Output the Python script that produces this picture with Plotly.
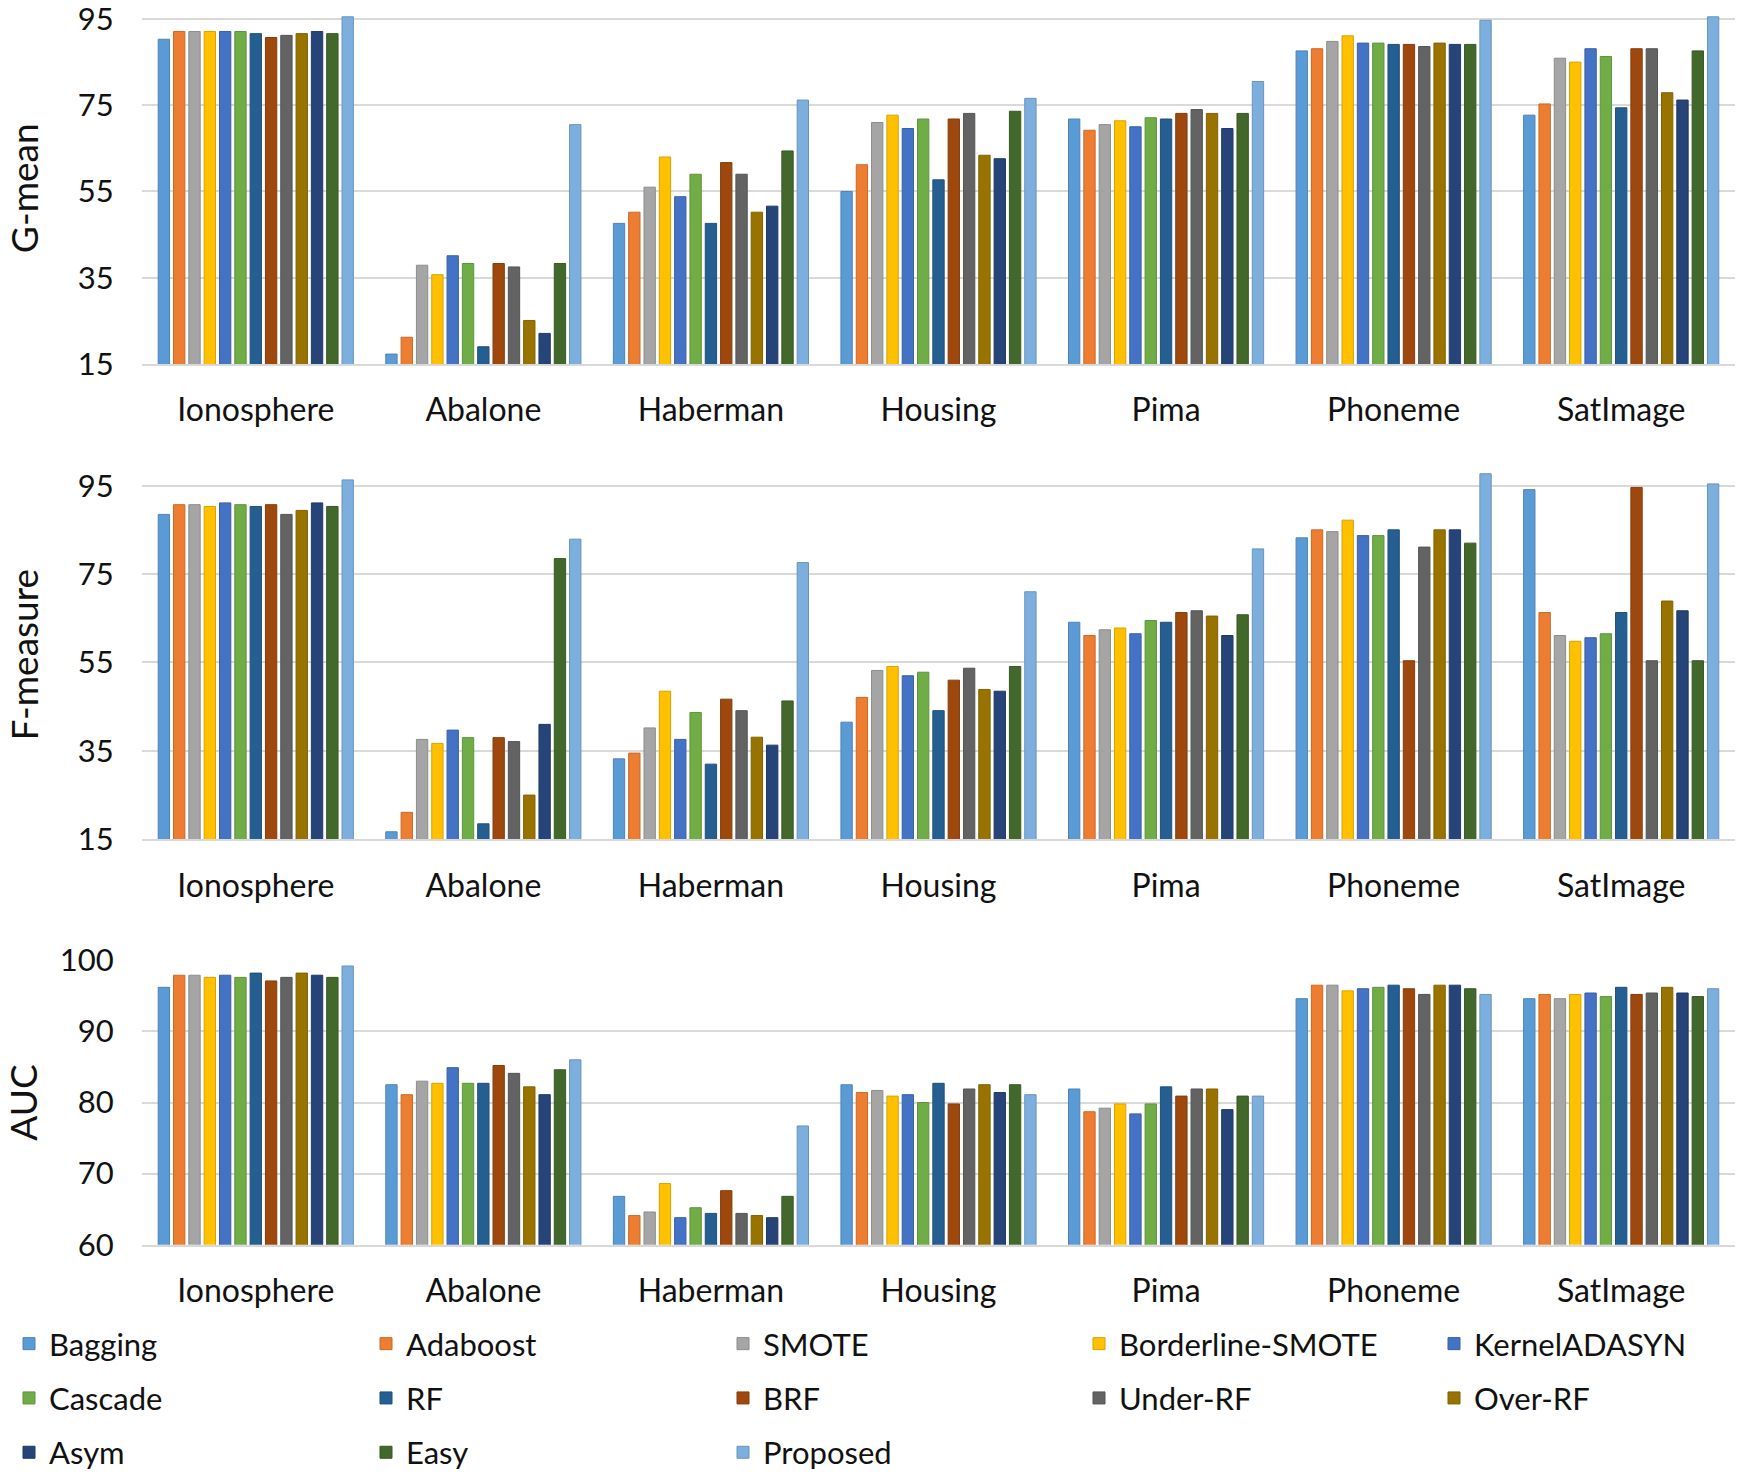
import plotly.graph_objects as go

datasets = ["Ionosphere", "Abalone", "Haberman", "Housing", "Pima", "Phoneme", "SatImage"]
methods = ["Bagging", "Adaboost", "SMOTE", "Borderline-SMOTE", "KernelADASYN",
           "Cascade", "RF", "BRF", "Under-RF", "Over-RF", "Asym", "Easy", "Proposed"]

# G-mean values: one list per method, in dataset order
gmean_bagging = [90.3, 17.3, 47.6, 55.0, 71.8, 87.6, 72.7]
gmean_adaboost = [92.1, 21.2, 50.2, 61.2, 69.2, 88.1, 75.3]
gmean_smote = [92.1, 37.9, 56.0, 71.0, 70.5, 89.8, 85.9]
gmean_borderline = [92.1, 35.7, 63.0, 72.7, 71.4, 91.1, 85.0]
gmean_kerneladasyn = [92.1, 40.1, 53.8, 69.6, 70.0, 89.4, 88.1]
gmean_cascade = [92.1, 38.3, 59.0, 71.8, 72.1, 89.4, 86.3]
gmean_rf = [91.6, 19.0, 47.6, 57.7, 71.8, 89.1, 74.4]
gmean_brf = [90.7, 38.3, 61.7, 71.8, 73.1, 89.1, 88.1]
gmean_under_rf = [91.2, 37.5, 59.0, 73.1, 74.0, 88.6, 88.1]
gmean_over_rf = [91.6, 25.1, 50.2, 63.4, 73.1, 89.4, 77.9]
gmean_asym = [92.1, 22.1, 51.6, 62.6, 69.6, 89.1, 76.2]
gmean_easy = [91.6, 38.3, 64.4, 73.6, 73.1, 89.1, 87.6]
gmean_proposed = [95.5, 70.5, 76.2, 76.6, 80.5, 94.7, 95.5]

# F-measure values
fm_bagging = [88.5, 16.7, 33.2, 41.5, 64.1, 83.2, 94.1]
fm_adaboost = [90.7, 21.1, 34.5, 47.1, 61.1, 85.0, 66.3]
fm_smote = [90.7, 37.6, 40.2, 53.2, 62.4, 84.6, 61.1]
fm_borderline = [90.3, 36.7, 48.5, 54.1, 62.8, 87.2, 59.8]
fm_kerneladasyn = [91.1, 39.7, 37.6, 52.0, 61.5, 83.7, 60.6]
fm_cascade = [90.7, 38.0, 43.7, 52.8, 64.5, 83.7, 61.5]
fm_rf = [90.3, 18.5, 32.0, 44.1, 64.1, 85.0, 66.3]
fm_brf = [90.7, 38.0, 46.7, 51.0, 66.3, 55.4, 94.6]
fm_under_rf = [88.5, 37.1, 44.1, 53.7, 66.7, 81.1, 55.4]
fm_over_rf = [89.4, 25.0, 38.1, 48.9, 65.5, 85.0, 68.9]
fm_asym = [91.1, 41.0, 36.3, 48.5, 61.1, 85.0, 66.7]
fm_easy = [90.3, 78.5, 46.3, 54.1, 65.8, 82.0, 55.4]
fm_proposed = [96.3, 82.9, 77.6, 71.0, 80.7, 97.7, 95.4]

# AUC values
auc_bagging = [96.2, 82.5, 66.8, 82.5, 81.9, 94.6, 94.6]
auc_adaboost = [97.9, 81.1, 64.1, 81.4, 78.7, 96.5, 95.2]
auc_smote = [97.9, 83.0, 64.6, 81.7, 79.2, 96.5, 94.6]
auc_borderline = [97.6, 82.7, 68.6, 80.9, 79.8, 95.7, 95.2]
auc_kerneladasyn = [97.9, 84.9, 63.8, 81.1, 78.4, 96.0, 95.4]
auc_cascade = [97.6, 82.7, 65.2, 80.0, 79.8, 96.2, 94.9]
auc_rf = [98.2, 82.7, 64.4, 82.7, 82.2, 96.5, 96.2]
auc_brf = [97.1, 85.2, 67.6, 79.8, 80.9, 96.0, 95.2]
auc_under_rf = [97.6, 84.1, 64.4, 81.9, 81.9, 95.2, 95.4]
auc_over_rf = [98.2, 82.2, 64.1, 82.5, 81.9, 96.5, 96.2]
auc_asym = [97.9, 81.1, 63.8, 81.4, 79.0, 96.5, 95.4]
auc_easy = [97.6, 84.6, 66.8, 82.5, 80.9, 96.0, 94.9]
auc_proposed = [99.2, 86.0, 76.7, 81.1, 80.9, 95.2, 96.0]

gmean = [gmean_bagging, gmean_adaboost, gmean_smote, gmean_borderline, gmean_kerneladasyn,
         gmean_cascade, gmean_rf, gmean_brf, gmean_under_rf, gmean_over_rf, gmean_asym,
         gmean_easy, gmean_proposed]
fmeasure = [fm_bagging, fm_adaboost, fm_smote, fm_borderline, fm_kerneladasyn,
            fm_cascade, fm_rf, fm_brf, fm_under_rf, fm_over_rf, fm_asym,
            fm_easy, fm_proposed]
auc = [auc_bagging, auc_adaboost, auc_smote, auc_borderline, auc_kerneladasyn,
       auc_cascade, auc_rf, auc_brf, auc_under_rf, auc_over_rf, auc_asym,
       auc_easy, auc_proposed]

metric_titles = ["G-mean", "F-measure", "AUC"]
gmean_ticks = [15, 35, 55, 75, 95]
fmeasure_ticks = [15, 35, 55, 75, 95]
auc_ticks = [60, 70, 80, 90, 100]

colors = ["#5B9BD5", "#ED7D31", "#A5A5A5", "#FFC000", "#4472C4",
          "#70AD47", "#255E91", "#9E480E", "#636363", "#997300",
          "#264478", "#43682B", "#7CAFDD"]


def darker(hex_color, f=0.85):
    h = hex_color.lstrip("#")
    r, g, b = (int(h[i:i + 2], 16) for i in (0, 2, 4))
    return "rgb(%d,%d,%d)" % (int(r * f), int(g * f), int(b * f))


W, H = 1740, 1475
FONT = "Lato"
TXT = "#111111"
GRID = "#D9D9D9"

# legend laid out in 5 columns, filled row by row (as in the reference)
n_cols = 5
legend_names = ["legend", "legend2", "legend3", "legend4", "legend5"]

fig = go.Figure()
series = [gmean, fmeasure, auc]
for m, data in enumerate(series):
    ax = "" if m == 0 else str(m + 1)
    for i, name in enumerate(methods):
        fig.add_trace(go.Bar(
            x=datasets, y=data[i], name=name,
            marker=dict(color=colors[i], line=dict(color=darker(colors[i]), width=1)),
            xaxis="x" + ax, yaxis="y" + ax,
            showlegend=(m == 0),
            legend=legend_names[i % n_cols],
            legendgroup=name,
        ))


def ydom(top_px, bottom_px):
    return [1 - bottom_px / H, 1 - top_px / H]


x_dom = [142 / W, 1735 / W]
panels = [
    dict(dom=ydom(12.5, 364.0), rng=[15, 96.5], ticks=gmean_ticks, standoff=27),
    dict(dom=ydom(470.2, 839.3), rng=[15, 98.5], ticks=fmeasure_ticks, standoff=27),
    dict(dom=ydom(960.3, 1244.7), rng=[60, 100], ticks=auc_ticks, standoff=10),
]

layout = dict(
    width=W, height=H,
    margin=dict(l=0, r=0, t=0, b=0, autoexpand=False),
    paper_bgcolor="white", plot_bgcolor="white",
    barmode="group", bargap=0.125, bargroupgap=0.26,
    font=dict(family=FONT, size=31, color=TXT),
)
for m, p in enumerate(panels):
    ax = "" if m == 0 else str(m + 1)
    layout["xaxis" + ax] = dict(
        domain=x_dom, anchor="y" + ax,
        showline=True, linecolor=GRID, linewidth=2,
        ticks="outside", ticklen=17, tickcolor="rgba(0,0,0,0)",
        tickfont=dict(family=FONT, size=32, color=TXT),
        showgrid=False,
    )
    layout["yaxis" + ax] = dict(
        domain=p["dom"], anchor="x" + ax, range=p["rng"],
        tickvals=p["ticks"], showgrid=True, gridcolor=GRID, gridwidth=2,
        zeroline=False, showline=False,
        ticks="outside", ticklen=21, tickcolor="rgba(0,0,0,0)",
        ticklabeloverflow="allow",
        tickfont=dict(family=FONT, size=31, color=TXT),
        title=dict(text=metric_titles[m], font=dict(family=FONT, size=37, color=TXT),
                   standoff=p["standoff"]),
    )

col_x = [9, 366, 723, 1079, 1434]
legend_top = 1317
for k, ln in enumerate(legend_names):
    layout[ln] = dict(
        orientation="v", x=col_x[k] / W, xanchor="left",
        y=1 - legend_top / H, yanchor="top",
        font=dict(family=FONT, size=31, color=TXT),
        bgcolor="rgba(0,0,0,0)", itemclick=False, itemdoubleclick=False,
        traceorder="grouped", tracegroupgap=11,
    )

fig.update_layout(**layout)
fig.write_html("out.html", config={"displayModeBar": False},
               post_script="document.body.style.margin='0';")
